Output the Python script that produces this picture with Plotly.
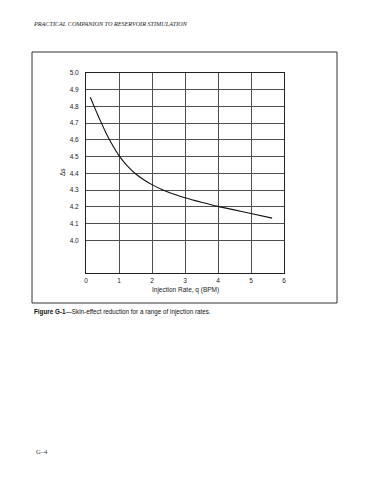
import plotly.graph_objects as go

# Data
rate_bpm = [0.13, 0.3, 0.45, 0.6, 0.75, 0.9, 1.0, 1.25, 1.5, 1.75, 2.0, 2.3, 2.6, 3.0, 3.5, 4.0, 4.5, 5.0, 5.64]
delta_s = [4.855, 4.775, 4.708, 4.645, 4.588, 4.537, 4.506, 4.445, 4.398, 4.362, 4.333, 4.304, 4.28, 4.255, 4.228, 4.203, 4.182, 4.161, 4.133]

x_ticks = [0, 1, 2, 3, 4, 5, 6]
x_tick_labels = ["0", "1", "2", "3", "4", "5", "6"]
y_ticks = [4.0, 4.1, 4.2, 4.3, 4.4, 4.5, 4.6, 4.7, 4.8, 4.9, 5.0]
y_tick_labels = ["4.0", "4.1", "4.2", "4.3", "4.4", "4.5", "4.6", "4.7", "4.8", "4.9", "5.0"]

header_text = "PRACTICAL COMPANION TO RESERVOIR STIMULATION"
caption_text = "<b>Figure G-1</b>—Skin-effect reduction for a range of injection rates."
page_text = "G–4"
x_title = "Injection Rate, q (BPM)"
y_title = "Δs"

OFF = 8  # default page body margin
W, H = 370 - OFF, 480 - OFF
L, R, T, B = 86, 284, 73, 273  # plot area in window pixels


def px(x):
    return (x - L) / (R - L)


def py(y):
    return (B - y) / (B - T)


fig = go.Figure()
fig.add_trace(go.Scatter(
    x=rate_bpm, y=delta_s, mode="lines",
    line=dict(color="#111111", width=1.1, shape="spline", smoothing=0.6),
    hoverinfo="skip", showlegend=False,
))

sans = "Liberation Sans, Arial, sans-serif"
serif = "Liberation Serif, Times New Roman, serif"

fig.update_layout(
    width=W, height=H,
    margin=dict(l=L - OFF, r=W - (R - OFF), t=T - OFF, b=H - (B - OFF), pad=0),
    paper_bgcolor="white", plot_bgcolor="white",
    font=dict(family=sans, size=7, color="#222222"),
    xaxis=dict(
        range=[0, 6], tickvals=x_ticks, ticktext=x_tick_labels,
        showgrid=True, gridcolor="#505050", gridwidth=1,
        zeroline=False, showline=True, linecolor="#222222", linewidth=1,
        mirror=True, ticks="", ticklen=0,
        tickfont=dict(family=sans, size=6.5, color="#222222"),
        fixedrange=True,
    ),
    yaxis=dict(
        range=[3.805, 5.0], tickvals=y_ticks, ticktext=y_tick_labels,
        showgrid=True, gridcolor="#505050", gridwidth=1,
        zeroline=False, showline=True, linecolor="#222222", linewidth=1,
        mirror=True, ticks="", ticklen=0,
        tickfont=dict(family=sans, size=6.5, color="#222222"),
        fixedrange=True,
    ),
    showlegend=False,
)

fig.update_xaxes(ticklabelstandoff=1)
fig.update_yaxes(ticklabelstandoff=5)

annotations = [
    dict(text=x_title, x=px(185), y=py(290), xref="paper", yref="paper",
         showarrow=False, font=dict(family=sans, size=6.5, color="#222222"),
         xanchor="center", yanchor="middle"),
    dict(text=y_title, x=px(62), y=py(172), xref="paper", yref="paper",
         showarrow=False, textangle=-90,
         font=dict(family=sans, size=6.5, color="#222222"),
         xanchor="center", yanchor="middle"),
    dict(text="<i>" + header_text + "</i>", x=px(31), y=py(24), xref="paper", yref="paper",
         showarrow=False, font=dict(family=serif, size=6.2, color="#222222"),
         xanchor="left", yanchor="middle"),
    dict(text=caption_text, x=px(32), y=py(312), xref="paper", yref="paper",
         showarrow=False, font=dict(family=sans, size=6.3, color="#111111"),
         xanchor="left", yanchor="middle"),
    dict(text=page_text, x=px(34), y=py(451), xref="paper", yref="paper",
         showarrow=False, font=dict(family=serif, size=6.5, color="#333333"),
         xanchor="left", yanchor="middle"),
]
fig.update_layout(annotations=annotations)

fig.add_shape(type="rect", xref="paper", yref="paper",
              x0=px(32), x1=px(337), y0=py(303), y1=py(52),
              line=dict(color="#333333", width=1), fillcolor="rgba(0,0,0,0)")

fig.write_html("out.html", config={"displayModeBar": False})
